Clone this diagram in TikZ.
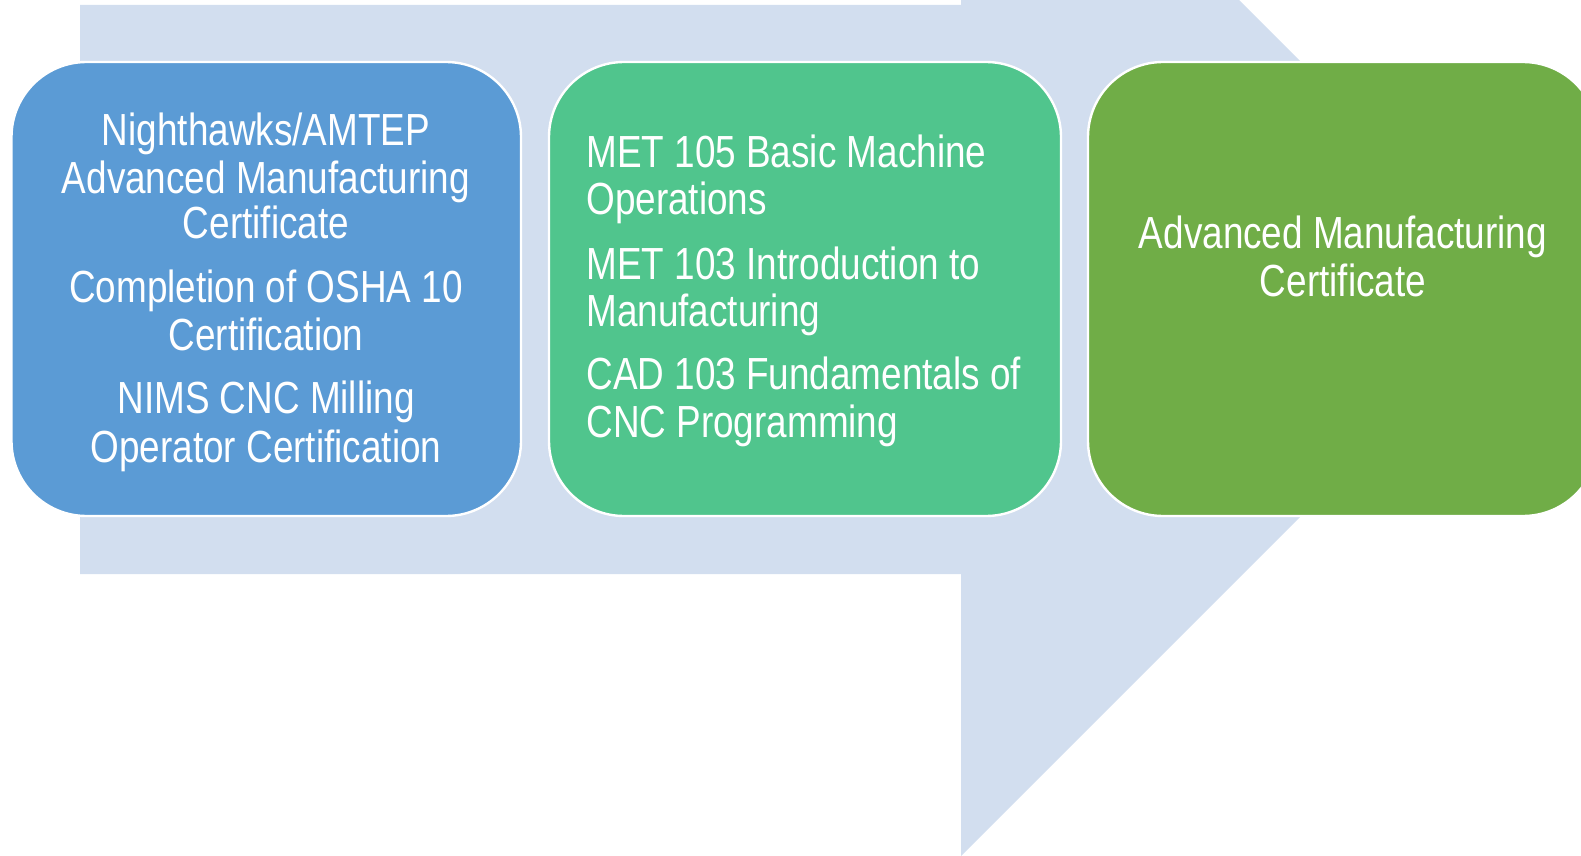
\documentclass[tikz,border=0pt]{standalone}
\usepackage{fontspec}
\setmainfont[FakeStretch=0.82]{Liberation Sans}
\definecolor{arrowfill}{HTML}{D2DEEF}
\definecolor{bluebox}{HTML}{5B9BD5}
\definecolor{greenbox}{HTML}{50C58D}
\definecolor{darkgreenbox}{HTML}{70AD47}
\begin{document}
\begin{tikzpicture}[x=0.5pt,y=-0.5pt,
  box/.style={draw=white, line width=1.2pt, rounded corners=37.5pt, minimum height=227pt, inner sep=0pt},
  txt/.style={text=white, inner sep=0pt, font=\fontsize{22.5pt}{27pt}\selectfont, anchor=base},
  txtl/.style={txt, anchor=base west}]
\useasboundingbox (0,0) rectangle (1581,856);
\clip (0,0) rectangle (1581,856);
% big arrow
\fill[arrowfill] (80,5) -- (961,5) -- (961,-278) -- (1528,289) -- (961,856) -- (961,574) -- (80,574) -- cycle;
% boxes
\node[box, fill=bluebox, minimum width=254.75pt] (blue) at (266.25,289) {};
\node[box, fill=greenbox, minimum width=256pt] (green) at (805,289) {};
\node[box, fill=darkgreenbox, minimum width=255pt] (dgreen) at (1343,289) {};
% blue texts
\node[txt] (b1) at (266,146) {Nighthawks/AMTEP};
\node[txt] (b2) at (266,193) {Advanced Manufacturing};
\node[txt] (b3) at (266,239) {Certificate};
\node[txt] (b4) at (266,302) {Completion of OSHA 10};
\node[txt] (b5) at (266,350) {Certification};
\node[txt] (b6) at (266,413) {NIMS CNC Milling};
\node[txt] (b7) at (266,462) {Operator Certification};
% green texts
\node[txtl] (g1) at (586,168) {MET 105 Basic Machine};
\node[txtl] (g2) at (586,214) {Operations};
\node[txtl] (g3) at (586,279) {MET 103 Introduction to};
\node[txtl] (g4) at (586,326) {Manufacturing};
\node[txtl] (g5) at (586,389) {CAD 103 Fundamentals of};
\node[txtl] (g6) at (586,437) {CNC Programming};
% dark green texts
\node[txt] (d1) at (1343,249) {Advanced Manufacturing};
\node[txt] (d2) at (1343,296) {Certificate};
\end{tikzpicture}
\end{document}
